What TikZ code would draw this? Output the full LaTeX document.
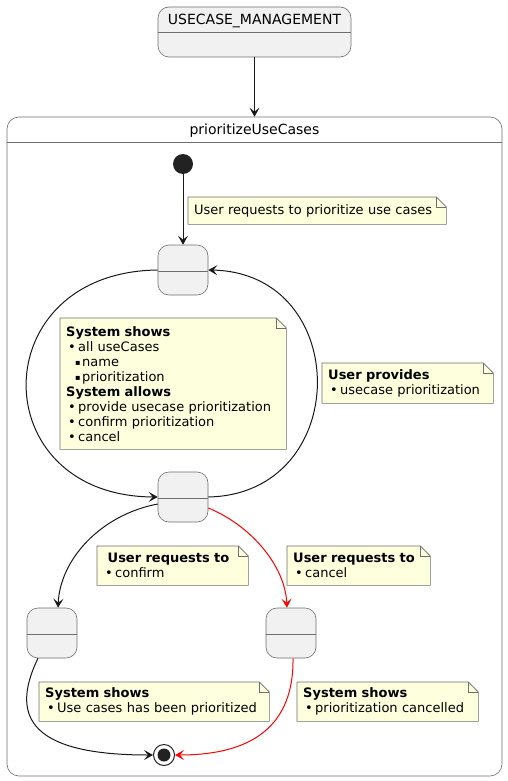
\documentclass[tikz,border=0pt]{standalone}
\usepackage{fontspec}
\setmainfont{DejaVu Sans}
\usetikzlibrary{arrows.meta}
\definecolor{ink}{HTML}{181818}
\definecolor{edge}{HTML}{6E6E6E}
\definecolor{stfill}{HTML}{F1F1F1}
\definecolor{notefill}{HTML}{FEFFDD}
\definecolor{dotc}{HTML}{222222}
\definecolor{redline}{HTML}{FF0000}
\pgfdeclarelayer{back}
\pgfsetlayers{back,main}
\newcommand\bl[1]{\hspace*{2pt}\makebox[10pt][l]{•}#1}
\newcommand\sbl[1]{\hspace*{9pt}\makebox[7pt][l]{\raisebox{1pt}{\fontsize{8}{8}\selectfont ▪}}#1}
\newcommand\foldnote[1]{%
  \begin{pgfonlayer}{back}
    \filldraw[notebg] (#1.north west) -- ([xshift=-10pt]#1.north east) -- ([yshift=-10pt]#1.north east) -- (#1.south east) -- (#1.south west) -- cycle;
    \draw[notebg,fill=none] ([xshift=-10pt]#1.north east) -- ([xshift=-10pt,yshift=-10pt]#1.north east) -- ([yshift=-10pt]#1.north east);
  \end{pgfonlayer}}
\begin{document}
\begin{tikzpicture}[x=1pt,y=-1pt,
  stbox/.style={draw=edge, line width=0.6pt, fill=stfill, rounded corners=11pt, inner sep=0pt},
  comp/.style={draw=edge, line width=0.6pt, fill=none, rounded corners=12pt, inner sep=0pt},
  hline/.style={draw=edge, line width=0.6pt},
  flow/.style={draw=ink, line width=1pt, -{Stealth[length=9pt,width=10pt,inset=4pt]}},
  redflow/.style={flow, draw=redline},
  notebg/.style={draw=edge, line width=0.6pt, fill=notefill},
  note/.style={anchor=north west, inner xsep=6pt, inner ysep=0pt, align=left, font=\fontsize{13}{15}\selectfont},
  title/.style={anchor=base, inner sep=0pt, font=\fontsize{14}{16}\selectfont},
  initdot/.style={circle, fill=dotc, minimum size=20pt, inner sep=0pt},
  findot/.style={circle, draw=dotc, line width=1pt, fill=white, minimum size=21pt, inner sep=0pt},
  fincore/.style={circle, fill=dotc, minimum size=13pt, inner sep=0pt}]
\useasboundingbox (0,0) rectangle (508,781);

% top state
\node[stbox, minimum width=193pt, minimum height=50pt] (uc) at (254.5,32) {};
\draw[hline] ([yshift=-26pt]uc.north west) -- ([yshift=-26pt]uc.north east);
\node[title] (uct) at (254.5,25) {USECASE\_MANAGEMENT};

% composite state
\node[comp, minimum width=495pt, minimum height=659pt] (cs) at (254.5,446.5) {};
\draw[hline] ([yshift=-26pt]cs.north west) -- ([yshift=-26pt]cs.north east);
\node[title] (cst) at (254.5,135) {prioritizeUseCases};

\draw[flow] (uc.south) -- (cs.north);

% inner states
\node[initdot] (init) at (183,164) {};
\node[stbox, minimum width=50pt, minimum height=50pt] (s1) at (183,270) {};
\node[stbox, minimum width=50pt, minimum height=50pt] (s2) at (183,497) {};
\node[stbox, minimum width=50pt, minimum height=50pt] (s3) at (52,633) {};
\node[stbox, minimum width=50pt, minimum height=50pt] (s4) at (291,633) {};
\foreach \s in {s1,s2,s3,s4}{
  \draw[hline] ([yshift=-27pt]\s.north west) -- ([yshift=-27pt]\s.north east);
}
\node[findot] (fin) at (164,755) {};
\node[fincore] (finc) at (fin) {};

% connectors
\draw[flow] (init) -- (s1.north);
\draw[flow] (s1.west) .. controls (-17,272) and (-17,496) .. (s2.west);
\draw[flow] (s2.east) .. controls (353,494) and (353,273) .. (s1.east);
\draw[flow] ([yshift=-7pt]s2.west) .. controls (100,515) and (60,560) .. ([xshift=6pt]s3.north);
\draw[redflow] ([yshift=-11pt]s2.east) .. controls (250,525) and (285,565) .. ([xshift=-4pt]s4.north);
\draw[flow] ([xshift=-14pt]s3.south) .. controls (8,720) and (35,755) .. (fin.west);
\draw[redflow] ([xshift=2pt]s4.south) .. controls (294,735) and (240,755) .. (fin.east);

% notes
\node[note, text width=246pt, minimum height=27pt] (n1) at (188,197) {User requests to prioritize use cases};
\foldnote{n1}
\node[note, text width=214pt, minimum height=131pt] (n2) at (60,318) {\textbf{System shows}\\\bl{all useCases}\\\sbl{name}\\\sbl{prioritization}\\\textbf{System allows}\\\bl{provide usecase prioritization}\\\bl{confirm prioritization}\\\bl{cancel}};
\foldnote{n2}
\node[note, text width=159pt, minimum height=40pt] (n3) at (322,363) {\textbf{User provides}\\\bl{usecase prioritization}};
\foldnote{n3}
\node[note, text width=139pt, minimum height=39pt] (n4) at (97,546) {\hspace*{4.5pt}\textbf{User requests to}\\\bl{confirm}};
\foldnote{n4}
\node[note, text width=131pt, minimum height=39pt] (n5) at (287,546) {\textbf{User requests to}\\\bl{cancel}};
\foldnote{n5}
\node[note, text width=218pt, minimum height=39pt] (n6) at (39,682) {\textbf{System shows}\\\bl{Use cases has been prioritized}};
\foldnote{n6}
\node[note, text width=169pt, minimum height=39pt] (n7) at (297,682) {\textbf{System shows}\\\bl{prioritization cancelled}};
\foldnote{n7}
\end{tikzpicture}
\end{document}
